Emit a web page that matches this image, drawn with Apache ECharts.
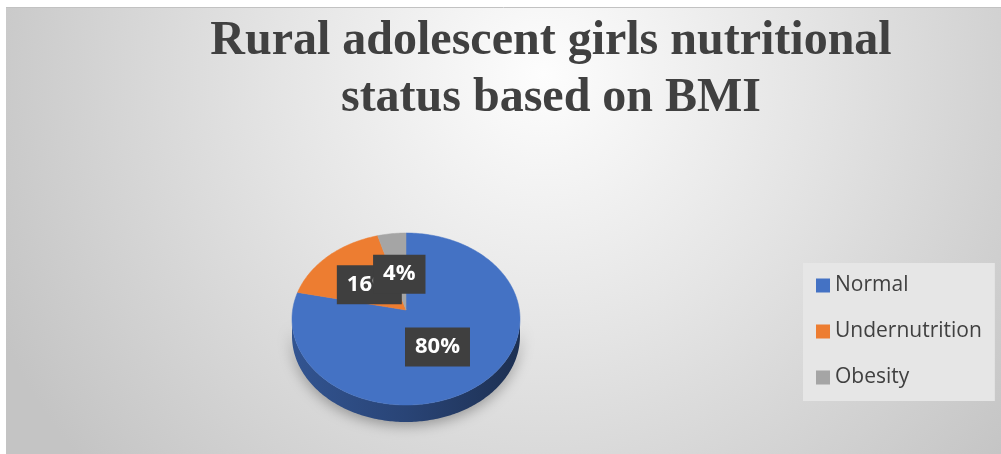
<!DOCTYPE html>
<html>
<head>
<meta charset="utf-8">
<script src="https://cdn.jsdelivr.net/npm/echarts@6/dist/echarts.min.js"></script>
<style>
html,body{margin:0;padding:0;background:#ffffff;}
#chart{width:1001px;height:454px;}
</style>
</head>
<body>
<div id="chart"></div>
<script>
const titleText = 'Rural adolescent girls nutritional\nstatus based on BMI';
const categories = ['Normal', 'Undernutrition', 'Obesity'];
const values = [80, 16, 4];
const colors = ['#4472C4', '#ED7D31', '#A5A5A5'];

const PIE = { cx: 406, cy: 319, rx: 114, ry: 86, tipY: 310, depth: 17, labelK: 0.47 };

function shade(hex, f) {
  const n = parseInt(hex.slice(1), 16);
  const r = Math.round(((n >> 16) & 255) * f);
  const g = Math.round(((n >> 8) & 255) * f);
  const b = Math.round((n & 255) * f);
  return 'rgb(' + r + ',' + g + ',' + b + ')';
}
function pt(deg, dy) {
  const a = deg * Math.PI / 180;
  return [PIE.cx + PIE.rx * Math.sin(a), PIE.cy - PIE.ry * Math.cos(a) + (dy || 0)];
}
function arc(from, to, dy) {
  const pts = [];
  const steps = Math.max(2, Math.ceil(Math.abs(to - from) / 1));
  for (let k = 0; k <= steps; k++) pts.push(pt(from + (to - from) * k / steps, dy));
  return pts;
}

const total = values.reduce((a, b) => a + b, 0);

function makeRender(i) {
  return function (params, api) {
    let before = 0;
    for (let j = 0; j < i; j++) before += values[j];
    const v = api.value(0);
    const start = before / total * 360;
    const end = start + v / total * 360;
    const tip = [PIE.cx, PIE.tipY];
    const children = [];
    const s = Math.max(start, 90), e = Math.min(end, 270);
    if (s < e) {
      const top = arc(s, e, 0);
      const bot = arc(e, s, PIE.depth);
      children.push({
        type: 'polygon', z2: 1,
        shape: { points: top.concat(bot) },
        style: {
          fill: {
            type: 'linear', global: true,
            x: PIE.cx - PIE.rx, y: 0, x2: PIE.cx + PIE.rx, y2: 0,
            colorStops: [
              { offset: 0, color: shade(colors[i], 0.74) },
              { offset: 0.5, color: shade(colors[i], 0.6) },
              { offset: 1, color: shade(colors[i], 0.42) }
            ]
          },
          shadowBlur: 14, shadowColor: 'rgba(0,0,0,0.35)', shadowOffsetY: 3
        }
      });
    }
    children.push({
      type: 'polygon', z2: 5,
      shape: { points: [tip].concat(arc(start, end, 0)) },
      style: { fill: colors[i], stroke: colors[i], lineWidth: 0.5 }
    });
    const mid = (start + end) / 2;
    const p = pt(mid, 0);
    const lx = tip[0] + PIE.labelK * (p[0] - tip[0]);
    const ly = tip[1] + PIE.labelK * (p[1] - tip[1]);
    children.push({
      type: 'text', z2: 20 + i,
      x: lx, y: ly,
      style: {
        text: Math.round(v / total * 100) + '%',
        fill: '#ffffff',
        font: 'bold 22px "Open Sans"',
        align: 'center', verticalAlign: 'middle',
        backgroundColor: '#3f3f3f',
        padding: [9, 10, 8, 10],
        boxShadowBlur: 6, boxShadowColor: 'rgba(0,0,0,0.45)', boxShadowOffsetX: 3, boxShadowOffsetY: 3
      }
    });
    return { type: 'group', children: children };
  };
}

const series = categories.map((name, i) => ({
  type: 'custom',
  name: name,
  coordinateSystem: 'none',
  silent: true,
  animation: false,
  itemStyle: { color: colors[i] },
  data: [[values[i]]],
  renderItem: makeRender(i)
}));

const chart = echarts.init(document.getElementById('chart'), null, { renderer: 'canvas' });
chart.setOption({
  animation: false,
  backgroundColor: '#ffffff',
  graphic: [
    {
      type: 'rect', z: -10, silent: true,
      shape: { x: 6, y: 8, width: 995, height: 446 },
      style: {
        fill: {
          type: 'radial', x: 0.54, y: 0.15, r: 1.35,
          colorStops: [
            { offset: 0, color: '#fdfdfd' },
            { offset: 0.45, color: '#e4e4e4' },
            { offset: 1, color: '#c4c4c4' }
          ]
        }
      }
    },
    {
      type: 'line', z: -9, silent: true,
      shape: { x1: 6, y1: 7.5, x2: 1001, y2: 7.5 },
      style: { stroke: '#c2c2c2', lineWidth: 1 }
    }
  ],
  title: {
    text: titleText,
    left: 546, top: 8, textAlign: 'center',
    textStyle: {
      fontFamily: 'Liberation Serif', fontWeight: 'bold', fontSize: 48,
      lineHeight: 57, color: '#404040'
    }
  },
  legend: {
    orient: 'vertical',
    left: 803, top: 263,
    padding: [12, 13, 13, 13],
    itemGap: 25, itemWidth: 14, itemHeight: 14,
    icon: 'rect',
    backgroundColor: '#e6e6e6',
    selectedMode: false,
    data: categories,
    textStyle: { fontFamily: 'Open Sans', fontSize: 21, color: '#404040', lineHeight: 20 }
  },
  series: series
});
</script>
</body>
</html>
